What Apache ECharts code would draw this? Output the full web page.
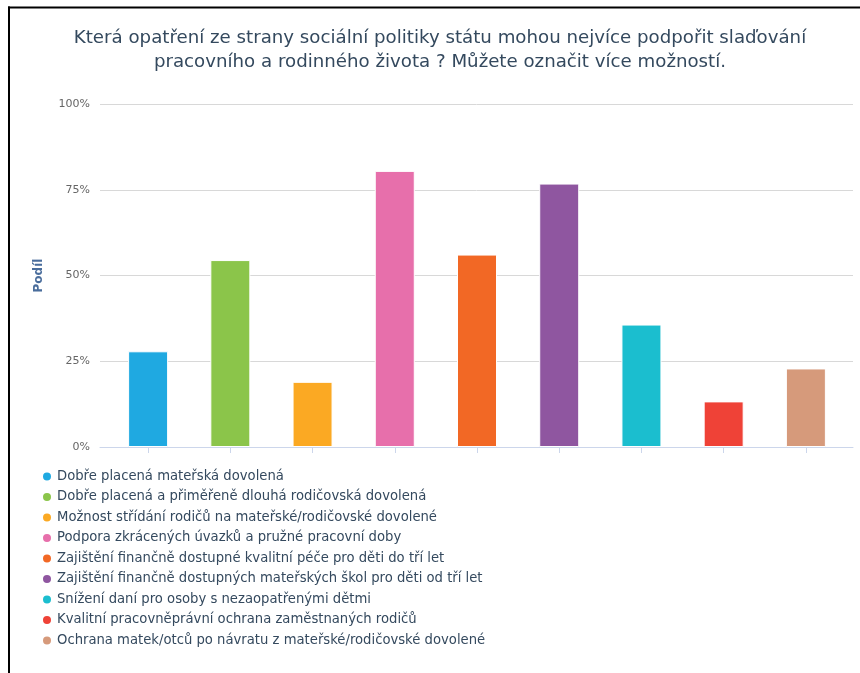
<!DOCTYPE html>
<html>
<head>
<meta charset="utf-8">
<style>
  html, body { margin: 0; padding: 0; background: #fff; }
  #chart { width: 860px; height: 673px; }
</style>
<script src="https://cdn.jsdelivr.net/npm/echarts@6/dist/echarts.min.js"></script>
</head>
<body>
<div id="chart"></div>
<script>
// Survey answers: share of respondents choosing each measure (multiple choice)
const categories = [
  'Dobře placená mateřská dovolená',
  'Dobře placená a přiměřeně dlouhá rodičovská dovolená',
  'Možnost střídání rodičů na mateřské/rodičovské dovolené',
  'Podpora zkrácených úvazků a pružné pracovní doby',
  'Zajištění finančně dostupné kvalitní péče pro děti do tří let',
  'Zajištění finančně dostupných mateřských škol pro děti od tří let',
  'Snížení daní pro osoby s nezaopatřenými dětmi',
  'Kvalitní pracovněprávní ochrana zaměstnaných rodičů',
  'Ochrana matek/otců po návratu z mateřské/rodičovské dovolené'
];
const shares = [27.9, 54.5, 19.0, 80.5, 56.1, 76.8, 35.7, 13.3, 22.9];
const colors = ['#1fa9e1', '#8bc54a', '#fba923', '#e76fab', '#f26825', '#8f56a0', '#1bbecf', '#ef4237', '#d69a7b'];
const yTicks = [0, 25, 50, 75, 100];

const titleText = 'Která opatření ze strany sociální politiky státu mohou nejvíce podpořit slaďování\npracovního a rodinného života ? Můžete označit více možností.';
const font = '"DejaVu Sans", Verdana, sans-serif';

const chart = echarts.init(document.getElementById('chart'), null, { renderer: 'canvas' });

// one series per measure, so each gets its own legend entry; they share a stack
// so every bar sits centred on its own category
const barSeries = categories.map((name, i) => ({
  name: name,
  type: 'bar',
  stack: 'all',
  xAxisIndex: 0,
  yAxisIndex: 0,
  barWidth: 40,
  itemStyle: { color: colors[i], borderColor: '#ffffff', borderWidth: 1 },
  data: categories.map((_, j) => (j === i ? shares[i] : '-'))
}));

const option = {
  animation: false,
  color: colors,
  title: {
    text: titleText,
    left: 435,
    top: 21,
    textAlign: 'center',
    textStyle: {
      fontFamily: font,
      fontSize: 18.2,
      fontWeight: 'normal',
      color: '#34495e',
      lineHeight: 24
    }
  },
  legend: {
    orient: 'vertical',
    left: 41,
    top: 470,
    padding: 0,
    icon: 'circle',
    itemWidth: 10,
    itemHeight: 10,
    itemGap: 7.5,
    textStyle: { fontFamily: font, fontSize: 13.2, color: '#34495e', lineHeight: 12 },
    data: categories
  },
  grid: [
    // bars
    { left: 107, right: 13, top: 104, bottom: 226 },
    // gridlines, y labels and baseline spanning the full plot width
    { left: 100, right: 7, top: 104, bottom: 226 }
  ],
  xAxis: [
    {
      type: 'category',
      gridIndex: 0,
      data: categories,
      axisLine: { show: false },
      axisTick: { show: true, interval: 0, alignWithLabel: true, length: 6, lineStyle: { color: '#ccd6eb' } },
      axisLabel: { show: false, interval: 0 },
      splitLine: { show: false }
    },
    {
      type: 'value',
      gridIndex: 1,
      min: 0,
      max: 1,
      axisLine: { show: true, lineStyle: { color: '#ccd6eb', width: 1 } },
      axisTick: { show: false },
      axisLabel: { show: false },
      splitLine: { show: false }
    }
  ],
  yAxis: [
    {
      type: 'value',
      gridIndex: 0,
      min: 0,
      max: 100,
      interval: 25,
      axisLine: { show: false },
      axisTick: { show: false },
      axisLabel: { show: false },
      splitLine: { show: false }
    },
    {
      type: 'value',
      gridIndex: 1,
      min: yTicks[0],
      max: yTicks[yTicks.length - 1],
      interval: 25,
      name: 'Podíl',
      nameLocation: 'middle',
      nameGap: 55,
      nameTextStyle: { fontFamily: font, fontSize: 12, fontWeight: 'bold', color: '#4a6d9c' },
      axisLine: { show: false },
      axisTick: { show: false },
      axisLabel: {
        formatter: '{value}%',
        margin: 10,
        fontFamily: font,
        fontSize: 11,
        color: '#666666'
      },
      splitLine: { show: true, lineStyle: { color: '#d8d8d8', width: 1 } }
    }
  ],
  series: barSeries,
  graphic: [
    // frame on the top and left edges
    { type: 'line', shape: { x1: 8, y1: 7.5, x2: 860, y2: 7.5 }, style: { stroke: '#000', lineWidth: 2 } },
    { type: 'line', shape: { x1: 9, y1: 6.5, x2: 9, y2: 673 }, style: { stroke: '#000', lineWidth: 2 } }
  ]
};

chart.setOption(option);
</script>
</body>
</html>
